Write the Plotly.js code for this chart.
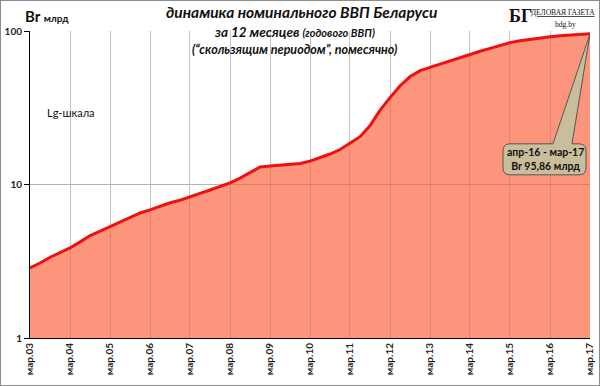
<!DOCTYPE html>
<html>
<head>
<meta charset="utf-8">
<script src="https://cdn.plot.ly/plotly-3.0.1.min.js"></script>
<style>
  body { margin: 0; padding: 0; background: #fff; }
  #wrap { position: relative; width: 600px; height: 386px; }
  #chart { width: 600px; height: 386px; }
  #frame { position: absolute; left: 0; top: 0; width: 598px; height: 384px; border: 1px solid #8c8c8c; pointer-events: none; }
</style>
</head>
<body>
<div id="wrap"><div id="chart"></div><div id="frame"></div></div>
<script>
// Quarterly readings (Br bn, 12-month rolling nominal GDP)
const dates = [
  "2003-03-01","2003-06-01","2003-09-01","2003-12-01",
  "2004-03-01","2004-06-01","2004-09-01","2004-12-01",
  "2005-03-01","2005-06-01","2005-09-01","2005-12-01",
  "2006-03-01","2006-06-01","2006-09-01","2006-12-01",
  "2007-03-01","2007-06-01","2007-09-01","2007-12-01",
  "2008-03-01","2008-06-01","2008-09-01","2008-12-01",
  "2009-03-01","2009-06-01","2009-09-01","2009-12-01",
  "2010-03-01","2010-06-01","2010-09-01","2010-12-01",
  "2011-03-01","2011-06-01","2011-09-01","2011-12-01",
  "2012-03-01","2012-06-01","2012-09-01","2012-12-01",
  "2013-03-01","2013-06-01","2013-09-01","2013-12-01",
  "2014-03-01","2014-06-01","2014-09-01","2014-12-01",
  "2015-03-01","2015-06-01","2015-09-01","2015-12-01",
  "2016-03-01","2016-06-01","2016-09-01","2016-12-01",
  "2017-03-01"
];
const gdp = [
  2.86, 3.08, 3.36, 3.58,
  3.86, 4.23, 4.65, 4.96,
  5.32, 5.70, 6.10, 6.52,
  6.83, 7.22, 7.60, 7.90,
  8.35, 8.75, 9.21, 9.70,
  10.25, 11.0, 11.9, 13.0,
  13.2, 13.35, 13.5, 13.7,
  14.2, 15.0, 15.8, 16.9,
  18.5, 20.5, 24.2, 30.5,
  36.8, 44.0, 50.5, 55.2,
  58.0, 61.0, 64.0, 67.2,
  70.5, 73.8, 77.1, 80.5,
  84.0, 86.3, 88.3, 90.3,
  91.8, 93.0, 94.0, 95.0,
  95.86
];
const tickDates = ["2003-03-01","2004-03-01","2005-03-01","2006-03-01","2007-03-01","2008-03-01","2009-03-01","2010-03-01","2011-03-01","2012-03-01","2013-03-01","2014-03-01","2015-03-01","2016-03-01","2017-03-01"];
const tickLabels = ["мар.03","мар.04","мар.05","мар.06","мар.07","мар.08","мар.09","мар.10","мар.11","мар.12","мар.13","мар.14","мар.15","мар.16","мар.17"];
const yTicks = [1, 10, 100];
const yTickLabels = ["1", "10", "100"];
const calloutLines = ["апр-16 - мар-17", "Br 95,86 млрд"];

const lastX = dates[dates.length - 1];
const lastY = gdp[gdp.length - 1];

const trace = {
  x: dates, y: gdp, type: "scatter", mode: "lines",
  line: { color: "#f01010", width: 3 },
  fill: "tozeroy", fillcolor: "rgba(250,94,55,0.66)",
  hoverinfo: "skip"
};

const F = "Lato, 'Open Sans', sans-serif";
const SERIF = "'Liberation Serif', serif";

const layout = {
  width: 600, height: 386,
  margin: { l: 30, r: 10, t: 31, b: 48 },
  paper_bgcolor: "#fff", plot_bgcolor: "#fff",
  showlegend: false,
  xaxis: {
    type: "date", range: [dates[0], lastX],
    tickvals: tickDates, ticktext: tickLabels, tickangle: -90,
    tickfont: { family: F, size: 10, color: "#222", weight: "bold" },
    showgrid: true, gridcolor: "#c4c4c4", gridwidth: 1,
    showline: true, linecolor: "#000", linewidth: 1,
    ticks: "", zeroline: false, fixedrange: true
  },
  yaxis: {
    type: "log", range: [0, 2],
    tickvals: yTicks, ticktext: yTickLabels,
    tickfont: { family: F, size: 10, color: "#222", weight: "bold" },
    showgrid: true, gridcolor: "#b4b4b4", gridwidth: 1,
    showline: true, linecolor: "#000", linewidth: 1,
    ticks: "outside", ticklen: 5, tickcolor: "#000",
    zeroline: false, fixedrange: true
  },
  shapes: [
    { type: "rect", xref: "paper", yref: "paper", x0: 0.22, x1: 0.72, y0: 0.925, y1: 1.2,
      fillcolor: "#fff", line: { width: 0 }, layer: "between" },
    { type: "path", xref: "x", yref: "y", xsizemode: "pixel", ysizemode: "pixel",
      xanchor: lastX, yanchor: lastY,
      path: "M -80,-110 L -37,-110 L 0,0 L -18,-110 L -11,-110 Q -4,-110 -4,-117 L -4,-134 Q -4,-141 -11,-141 L -80,-141 Q -87,-141 -87,-134 L -87,-117 Q -87,-110 -80,-110 Z",
      fillcolor: "rgb(200,190,155)", line: { color: "#555", width: 1 }, layer: "above" }
  ],
  annotations: [
    { xref: "paper", yref: "paper", x: 0.484, y: 1.062, xanchor: "center", yanchor: "middle", showarrow: false,
      text: "динамика номинального ВВП Беларуси",
      font: { family: F, size: 15.5, color: "#111", weight: "bold", style: "italic" } },
    { xref: "paper", yref: "paper", x: 0.472, y: 0.997, xanchor: "center", yanchor: "middle", showarrow: false,
      text: "за 12 месяцев <span style='font-size:11px'>(годового ВВП)</span>",
      font: { family: F, size: 13.5, color: "#111", weight: "bold", style: "italic" } },
    { xref: "paper", yref: "paper", x: 0.472, y: 0.94, xanchor: "center", yanchor: "middle", showarrow: false,
      text: "(“скользящим периодом”, помесячно)",
      font: { family: F, size: 12.5, color: "#111", weight: "bold", style: "italic" } },
    { xref: "paper", yref: "paper", x: -0.012, y: 1.05, xanchor: "left", yanchor: "middle", showarrow: false,
      text: "Br <span style='font-size:10px'>млрд</span>",
      font: { family: F, size: 15, color: "#111", weight: "bold" } },
    { xref: "paper", yref: "paper", x: 0.026, y: 0.736, xanchor: "left", yanchor: "middle", showarrow: false,
      text: "Lg-шкала", font: { family: F, size: 11, color: "#111" } },
    { xref: "paper", yref: "paper", x: 0.852, y: 1.05, xanchor: "left", yanchor: "middle", showarrow: false,
      text: "БГ", font: { family: SERIF, size: 18, color: "#111", weight: "bold" } },
    { xref: "paper", yref: "paper", x: 1.0125, y: 1.06, xanchor: "right", yanchor: "middle", showarrow: false,
      text: "<u>ДЕЛОВАЯ ГАЗЕТА</u>", font: { family: SERIF, size: 7.5, color: "#111" } },
    { xref: "paper", yref: "paper", x: 0.957, y: 1.022, xanchor: "center", yanchor: "middle", showarrow: false,
      text: "bdg.by", font: { family: SERIF, size: 7.5, color: "#111" } },
    { xref: "x", yref: "y", x: lastX, y: Math.log10(lastY), xanchor: "center", yanchor: "middle",
      xshift: -45, yshift: -125, showarrow: false,
      text: calloutLines.join("<br>"),
      font: { family: F, size: 10.5, color: "#111", weight: "bold" } }
  ]
};

Plotly.newPlot("chart", [trace], layout, { staticPlot: true, displayModeBar: false });
</script>
</body>
</html>
